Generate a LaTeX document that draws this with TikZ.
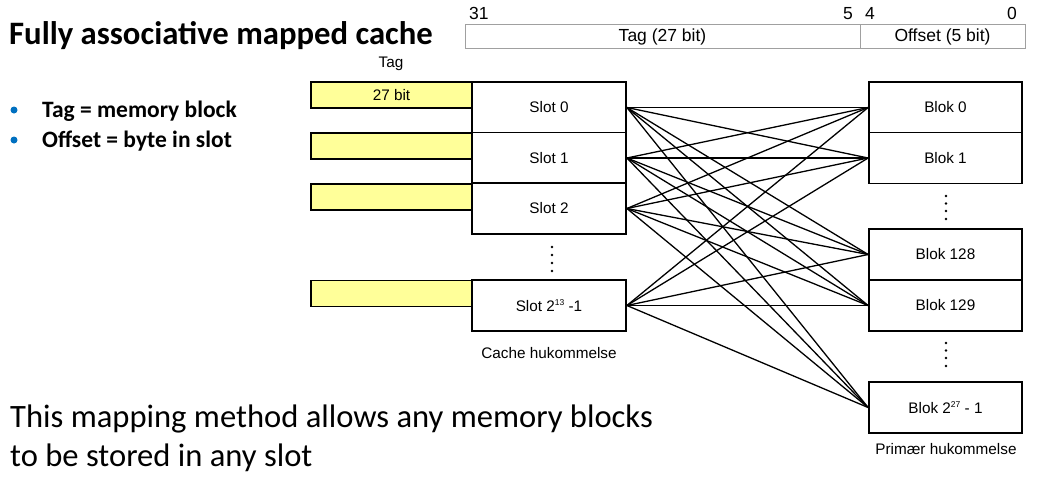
\documentclass[tikz,border=0pt]{standalone}
\usepackage{fontspec}
\setmainfont{Liberation Sans}
\newfontfamily\calfont{Carlito}
\definecolor{tagyellow}{RGB}{255,255,153}
\definecolor{bulletblue}{RGB}{0,112,192}
\definecolor{hdrgray}{RGB}{160,160,160}
\newcommand{\smallsup}[1]{\raisebox{5.5pt}{\fontsize{8.5}{9}\selectfont #1}}
\begin{document}
\begin{tikzpicture}[x=1pt,y=-1pt,
  cellbox/.style={draw, line width=1.8pt, fill=white, minimum width=154pt, minimum height=51pt, inner sep=0pt, font=\fontsize{15.3}{18}\selectfont},
  blokbox/.style={cellbox, minimum width=153pt},
  tagbox/.style={draw, line width=1.8pt, fill=tagyellow, minimum width=161pt, minimum height=26pt, inner sep=0pt, font=\fontsize{15.3}{18}\selectfont},
  wire/.style={line width=1.3pt},
  lbl/.style={inner sep=0pt, font=\fontsize{15.3}{18}\selectfont},
  hdrtxt/.style={inner sep=0pt, font=\fontsize{17.5}{20}\selectfont},
  dotmark/.style={fill=black, circle, inner sep=0pt, minimum size=2.6pt},
  bigtxt/.style={inner sep=0pt, anchor=base west, font=\calfont\fontsize{32.6}{38}\selectfont},
  bullettxt/.style={inner sep=0pt, anchor=base west, font=\calfont\bfseries\fontsize{23.5}{28}\selectfont}
]
\useasboundingbox (0,0) rectangle (1038,477);

% title and bullets
\node[inner sep=0pt, anchor=base west, font=\calfont\bfseries\fontsize{32.7}{38}\selectfont] (title) at (9,44) {Fully associative mapped cache};
\fill[bulletblue] (14,110) circle (3.5pt);
\fill[bulletblue] (14,140) circle (3.5pt);
\node[bullettxt] (b1) at (42,117) {Tag = memory block};
\node[bullettxt] (b2) at (42,147) {Offset = byte in slot};
\node[bigtxt] (m1) at (10,427) {This mapping method allows any memory blocks};
\node[bigtxt] (m2) at (10,466) {to be stored in any slot};

% address header
\draw[hdrgray, line width=0.9pt] (465,24) rectangle (1025,48);
\draw[hdrgray, line width=0.9pt] (860,24) -- (860,48);
\node[hdrtxt] (tagf) at (662.5,36.5) {Tag (27 bit)};
\node[hdrtxt] (offf) at (942.5,36.5) {Offset (5 bit)};
\node[hdrtxt, anchor=base west] (n31) at (469,19) {31};
\node[hdrtxt, anchor=base east] (n5) at (853,19) {5};
\node[hdrtxt, anchor=base west] (n4) at (865,19) {4};
\node[hdrtxt, anchor=base east] (n0) at (1017,19) {0};

% cache
\node[lbl] (taglbl) at (391,64) {Tag};
\node[tagbox] (tag0) at (391.5,95) {27 bit};
\node[tagbox] (tag1) at (391.5,146) {};
\node[tagbox] (tag2) at (391.5,197) {};
\node[tagbox] (tagN) at (391.5,293.5) {};
\node[cellbox] (slot0) at (549,107.5) {Slot 0};
\node[cellbox] (slot1) at (549,158) {Slot 1};
\node[cellbox] (slot2) at (549,208.5) {Slot 2};
\node[cellbox] (slotN) at (549,305.5) {Slot 2\smallsup{13} -1};
\foreach \yy in {247,255,263,271} \node[dotmark] at (552,\yy) {};
\node[lbl] (cachelbl) at (549,353) {Cache hukommelse};

% main memory
\node[blokbox] (blok0) at (945.5,107.5) {Blok 0};
\node[blokbox] (blok1) at (945.5,158) {Blok 1};
\node[blokbox] (blok128) at (945.5,254.5) {Blok 128};
\node[blokbox] (blok129) at (945.5,305.5) {Blok 129};
\node[blokbox] (blokN) at (945.5,407.5) {Blok 2\smallsup{27} - 1};
\foreach \yy in {196,203.5,211,219,343,350.5,358,366} \node[dotmark] at (946,\yy) {};
\node[lbl] (mainlbl) at (946,449) {Primær hukommelse};

% connections
\foreach \s in {slot0,slot1,slot2,slotN}
  \foreach \b in {blok0,blok1,blok128,blok129,blokN}
    \draw[wire] (\s.east) -- (\b.west);
\end{tikzpicture}
\end{document}
